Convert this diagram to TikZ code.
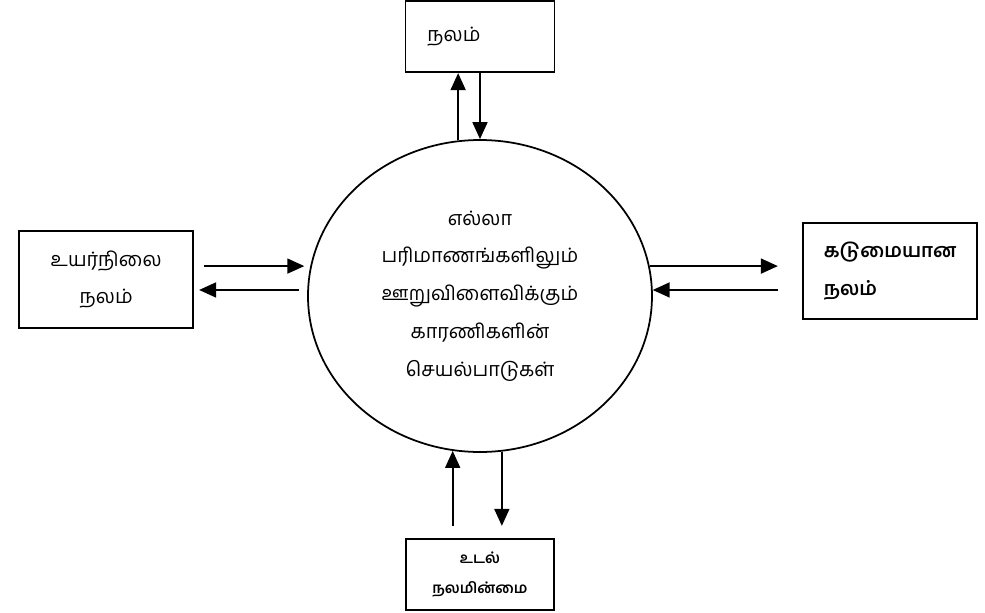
\documentclass[tikz,border=0pt]{standalone}
\usepackage{fontspec}
\newfontfamily\tamilfont[Script=Tamil]{Hind Madurai}
\usetikzlibrary{shapes.geometric,arrows.meta,positioning,calc}

\begin{document}
\begin{tikzpicture}[
    box/.style={rectangle, draw=black, line width=1pt, align=center, fill=white, font=\tamilfont\fontsize{11.3}{21}\selectfont},
    dataflow/.style={-{Triangle[length=0.34cm, width=0.3cm]}, line width=1pt}
]
\useasboundingbox (-9.6,5.92) rectangle (10.1,-6.34);

% Central ellipse
\node[ellipse, draw=black, line width=1pt, minimum width=6.88cm, minimum height=6.24cm, inner sep=0pt, align=center, font=\tamilfont\fontsize{11.3}{21.5}\selectfont] (factors) at (0,0) {எல்லா\\பரிமாணங்களிலும்\\ஊறுவிளைவிக்கும்\\காரணிகளின்\\செயல்பாடுகள்};

% Surrounding states
\node[box, above=1.32cm of factors, minimum width=2.98cm, minimum height=1.42cm, text width=2.1cm, align=left] (wellness) {நலம்};
\node[box, left=2.26cm of factors, yshift=0.33cm, minimum width=3.48cm, minimum height=1.94cm] (optimal) {உயர்நிலை\\நலம்};
\node[box, right=2.98cm of factors, yshift=0.5cm, minimum width=3.48cm, minimum height=1.92cm, text width=2.64cm, align=left, font=\tamilfont\bfseries\fontsize{11}{22}\selectfont] (severe) {கடுமையான\\நலம்};
\node[box, below=1.7cm of factors, minimum width=2.96cm, minimum height=1.42cm, font=\tamilfont\bfseries\fontsize{8.5}{17}\selectfont] (illness) {உடல்\\நலமின்மை};

% Arrows
\draw[dataflow] (factors.98.5) -- (factors.98.5 |- wellness.south);
\draw[dataflow] (wellness.south) -- (factors.north);
\draw[dataflow, shorten <=0.2cm, shorten >=0.12cm] (factors.170.3 -| optimal.east) -- (factors.170.3);
\draw[dataflow, shorten <=0.16cm, shorten >=0.1cm] (factors.178) -- (factors.178 -| optimal.east);
\draw[dataflow, shorten >=0.48cm] (factors.10.4) -- (factors.10.4 -| severe.west);
\draw[dataflow, shorten <=0.48cm] (factors.2 -| severe.west) -- (factors.2);
\draw[dataflow, shorten <=0.24cm] (factors.260.8 |- illness.north) -- (factors.260.8);
\draw[dataflow, shorten >=0.24cm] (factors.278.8) -- (factors.278.8 |- illness.north);

\end{tikzpicture}
\end{document}
